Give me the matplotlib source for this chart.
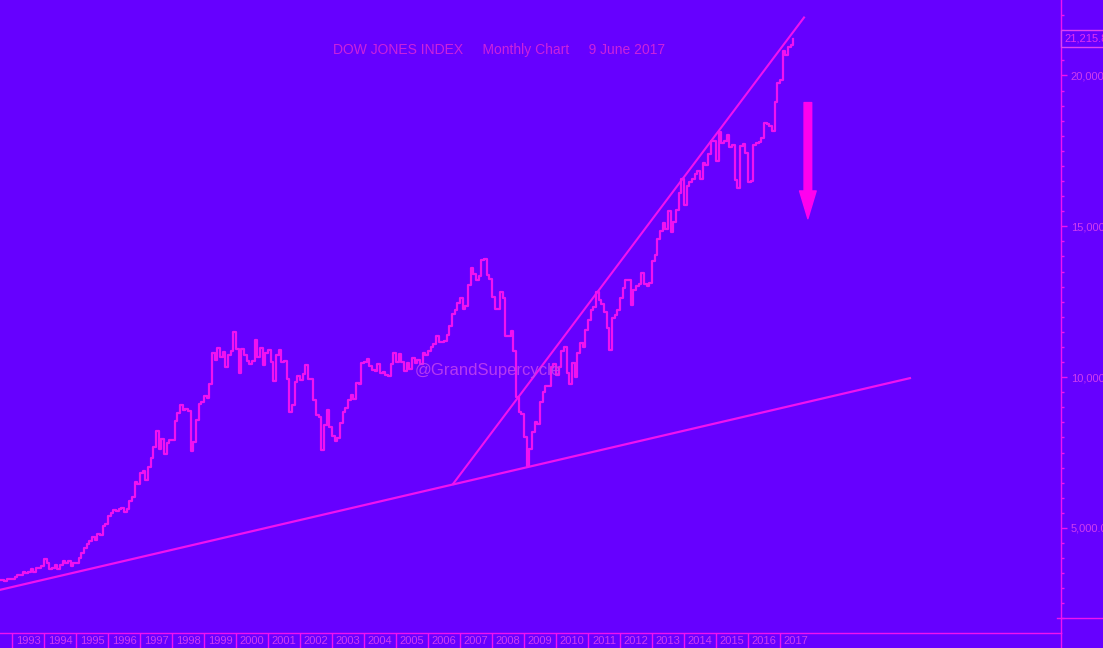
import numpy as np
import matplotlib.pyplot as plt
from matplotlib.patches import FancyArrowPatch
from matplotlib.transforms import blended_transform_factory

plt.rcParams['font.family'] = ['Liberation Sans', 'DejaVu Sans']

# monthly closes, Sep 1992 .. Jun 2017
start_year, start_month = 1992, 9
dow_close = [
    3271.7, 3226.3, 3305.2, 3301.1,
    3310.0, 3370.8, 3435.1, 3427.6, 3527.4, 3516.1, 3539.5, 3651.3, 3555.1, 3680.6, 3684.0, 3754.1,
    3978.4, 3832.0, 3636.0, 3681.7, 3758.4, 3625.0, 3764.5, 3913.4, 3843.2, 3908.1, 3739.2, 3834.4,
    3843.9, 4011.1, 4157.7, 4321.3, 4465.1, 4556.1, 4708.5, 4610.6, 4789.1, 4755.5, 5074.5, 5117.1,
    5395.3, 5485.6, 5587.1, 5569.1, 5643.2, 5654.6, 5528.9, 5616.2, 5882.2, 6029.4, 6521.7, 6448.3,
    6813.1, 6877.7, 6583.5, 7009.0, 7331.0, 7672.8, 8222.6, 7622.4, 7945.3, 7442.1, 7823.1, 7908.3,
    7906.5, 8545.7, 8799.8, 9063.4, 8900.0, 8952.0, 8883.3, 7539.1, 7842.6, 8592.1, 9116.6, 9181.4,
    9358.8, 9306.6, 9786.2, 10789.0, 10559.7, 10970.8, 10655.2, 10829.3, 10337.0, 10729.9, 10877.8, 11497.1,
    10940.5, 10128.3, 10921.9, 10733.9, 10522.3, 10447.9, 10522.0, 11215.1, 10650.9, 10971.1, 10414.5, 10786.9,
    10887.4, 10495.3, 9878.8, 10735.0, 10911.9, 10502.4, 10522.8, 9949.8, 8847.6, 9075.1, 9851.6, 10021.5,
    9920.0, 10106.1, 10403.9, 9946.2, 9925.3, 9243.3, 8736.6, 8663.5, 7591.9, 8397.0, 8896.1, 8341.6,
    8053.8, 7891.1, 7992.1, 8480.1, 8850.3, 8985.4, 9233.8, 9415.8, 9275.1, 9801.1, 9782.5, 10453.9,
    10488.1, 10583.9, 10357.7, 10225.6, 10188.5, 10435.5, 10139.7, 10173.9, 10080.3, 10027.5, 10428.0, 10783.0,
    10489.9, 10766.2, 10503.8, 10192.5, 10467.5, 10275.0, 10640.9, 10481.6, 10568.7, 10440.1, 10805.9, 10717.5,
    10864.9, 10993.4, 11109.3, 11367.1, 11168.3, 11150.2, 11185.7, 11381.2, 11679.1, 12080.7, 12221.9, 12463.2,
    12621.7, 12268.6, 12354.4, 13062.9, 13627.6, 13408.6, 13212.0, 13357.7, 13895.6, 13930.0, 13371.7, 13264.8,
    12650.4, 12266.4, 12262.9, 12820.1, 12638.3, 11350.0, 11378.0, 11543.6, 10850.7, 9325.0, 8829.0, 8776.4,
    8000.9, 7062.9, 7608.9, 8168.1, 8500.3, 8447.0, 9171.6, 9496.3, 9712.3, 9712.7, 10344.8, 10428.1,
    10067.3, 10325.3, 10856.6, 11008.6, 10136.6, 9774.0, 10465.9, 10014.7, 10788.1, 11118.5, 11006.0, 11577.5,
    11891.9, 12226.3, 12319.7, 12810.5, 12569.8, 12414.3, 12143.2, 11613.5, 10913.4, 11955.0, 12045.7, 12217.6,
    12632.9, 12952.1, 13212.0, 13213.6, 12393.5, 12880.1, 13008.7, 13090.8, 13437.1, 13096.5, 13025.6, 13104.1,
    13860.6, 14054.5, 14578.5, 14839.8, 15115.6, 14909.6, 15499.5, 14810.3, 15129.7, 15545.8, 16086.4, 16576.7,
    15698.9, 16321.7, 16457.7, 16580.8, 16717.2, 16826.6, 16563.3, 17098.5, 17042.9, 17390.5, 17828.2, 17823.1,
    17165.0, 18132.7, 17776.1, 17840.5, 18010.7, 17619.5, 17689.9, 16528.0, 16284.7, 17663.5, 17719.9, 17425.0,
    16466.3, 16516.5, 17685.1, 17773.6, 17787.2, 17930.0, 18432.2, 18400.9, 18308.2, 18142.4, 19123.6, 19762.6,
    19864.1, 20812.2, 20663.2, 20940.5, 21008.7, 21215.8,
]
last_value = 21215.8

# hand drawn trend lines (decimal year, index level)
support_x = [1992.62, 2021.06]
support_y = [2947, 9966]
channel_x = [2006.78, 2017.75]
channel_y = [6457, 21920]

# down arrow
arrow_x = 2017.87
arrow_from, arrow_to = 19100, 15250

years = list(range(1993, 2018))
price_ticks = [5000, 10000, 15000, 20000]

bg = '#6600FF'
pink = '#F012F0'
text_c = '#D03CF0'

fig = plt.figure(figsize=(11.03, 6.48), dpi=100, facecolor=bg)
ax = fig.add_axes([0, 15 / 648, 1061 / 1103, 633 / 648])
ax.set_facecolor(bg)

months = np.arange(len(dow_close))
x_dates = start_year + (start_month - 1 + months) / 12.0
ax.plot(x_dates, dow_close, drawstyle='steps-post', color=pink, lw=1.6)

ax.plot(support_x, support_y, color=pink, lw=1.6)
ax.plot(channel_x, channel_y, color=pink, lw=1.5)

arr = FancyArrowPatch((arrow_x, arrow_from), (arrow_x, arrow_to),
                      arrowstyle='simple,tail_width=5.5,head_width=12,head_length=20',
                      mutation_scale=1, color='#FF00EE', shrinkA=0, shrinkB=0,
                      capstyle='round')
ax.add_patch(arr)

ax.set_xlim(1992.625, 2025.78)
ax.set_ylim(1518, 22500)

# spines
for s in ['left', 'top']:
    ax.spines[s].set_visible(False)
for s in ['right', 'bottom']:
    ax.spines[s].set_color(pink)
    ax.spines[s].set_linewidth(1)

# year strip
ax.set_xticks(years)
ax.set_xticklabels([])
ax.set_xticks([y + 0.5 for y in years], minor=True)
ax.set_xticklabels([str(y) for y in years], minor=True)
ax.tick_params(axis='x', which='major', direction='out', length=11, width=1, color=pink)
ax.tick_params(axis='x', which='minor', length=0, pad=2.5, labelsize=8, labelcolor=text_c)

# price scale
ax.yaxis.tick_right()
ax.set_yticks(price_ticks)
ax.set_yticklabels(['{:,.1f}'.format(v) for v in price_ticks])
ax.set_yticks(np.arange(2000, 22500, 500), minor=True)
ax.tick_params(axis='y', which='major', direction='out', length=4, width=1, color=pink,
               pad=3, labelsize=8, labelcolor=text_c)
ax.tick_params(axis='y', which='minor', direction='out', length=2, width=1, color=pink)

# extras on the price scale
tr = blended_transform_factory(ax.transAxes, ax.transData)
ax.plot([0.996, 1.04], [2000, 2000], color=pink, lw=1, transform=tr, clip_on=False)
fig.add_artist(plt.Line2D([1061 / 1103, 1061 / 1103], [0, 15 / 648], color=pink, lw=1))

ax.text(1.0028, last_value, '{:,.1f}'.format(last_value), transform=tr, ha='left', va='center',
        fontsize=8, color='#E030F0', clip_on=False,
        bbox=dict(boxstyle='square,pad=0.3', fc=bg, ec='#E040F0', lw=1))

ax.text(333 / 1061, 1 - 50 / 633, 'DOW JONES INDEX     Monthly Chart     9 June 2017',
        transform=ax.transAxes, ha='left', va='center', fontsize=10, color='#CC22DD')
ax.text(415 / 1061, 1 - 370 / 633, '@GrandSupercycle', transform=ax.transAxes,
        ha='left', va='center', fontsize=12, color='#C040F0', alpha=0.9)

fig.savefig('out.png', dpi=100, facecolor=bg)
